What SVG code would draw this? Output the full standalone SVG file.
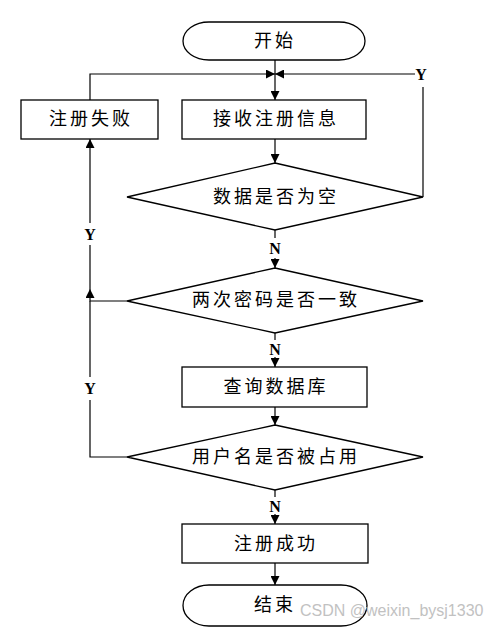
<svg xmlns="http://www.w3.org/2000/svg" width="499" height="631" viewBox="0 0 499 631">
<style>
.shape{fill:#fff;stroke:#000;stroke-width:1.3}
.ln{fill:none;stroke:#000;stroke-width:1.2}
.t{font-family:"Liberation Serif","Noto Sans CJK SC",serif;font-size:18px;letter-spacing:3px;text-anchor:middle;dominant-baseline:central;fill:#000}
.yn{font-family:"Liberation Serif",serif;font-size:16px;font-weight:bold;text-anchor:middle;dominant-baseline:central;fill:#000}
.wm{font-family:"Liberation Sans","DejaVu Sans",sans-serif;font-size:16px;fill:#bbb;opacity:0.9}
</style>
<defs>
<marker id="ah" viewBox="0 0 10 10" refX="10" refY="5" markerWidth="9" markerHeight="9" markerUnits="userSpaceOnUse" orient="auto">
<path d="M0,0 L10,5 L0,10 Z" fill="#000"/>
</marker>
</defs>
<g id="connectors">
<path class="ln" d="M275,60 L275,100" marker-end="url(#ah)"/>
<path class="ln" d="M90,100 L90,74 L275,74" marker-end="url(#ah)"/>
<path class="ln" d="M423,197 L423,87"/>
<path class="ln" d="M415,74 L275,74" marker-end="url(#ah)"/>
<path class="ln" d="M275,139 L275,163" marker-end="url(#ah)"/>
<path class="ln" d="M275,230 L275,238"/>
<path class="ln" d="M275,258 L275,268" marker-end="url(#ah)"/>
<path class="ln" d="M127,301 L90,301 L90,289" marker-end="url(#ah)"/>
<path class="ln" d="M90,223 L90,139" marker-end="url(#ah)"/>
<path class="ln" d="M90,289 L90,245"/>
<path class="ln" d="M275,333 L275,340"/>
<path class="ln" d="M275,357 L275,367" marker-end="url(#ah)"/>
<path class="ln" d="M275,407 L275,425" marker-end="url(#ah)"/>
<path class="ln" d="M127,457 L90,457 L90,400"/>
<path class="ln" d="M90,377 L90,301"/>
<path class="ln" d="M275,490 L275,497"/>
<path class="ln" d="M275,514 L275,524" marker-end="url(#ah)"/>
<path class="ln" d="M275,563 L275,585" marker-end="url(#ah)"/>
<text class="yn" x="421" y="74">Y</text>
<text class="yn" x="90" y="234">Y</text>
<text class="yn" x="90" y="388">Y</text>
<text class="yn" x="275" y="248">N</text>
<text class="yn" x="275" y="349">N</text>
<text class="yn" x="275" y="506">N</text>
</g>
<g id="start">
<rect class="shape" x="183" y="22" width="182" height="38" rx="26" ry="19"/>
<text class="t" x="275" y="41">开始</text>
</g>
<g id="fail">
<rect class="shape" x="21" y="100" width="137" height="39"/>
<text class="t" x="91" y="119">注册失败</text>
</g>
<g id="receive">
<rect class="shape" x="182" y="100" width="184" height="39"/>
<text class="t" x="276" y="119">接收注册信息</text>
</g>
<g id="empty">
<polygon class="shape" points="275,163 423,197 275,230 127,197"/>
<text class="t" x="276" y="197">数据是否为空</text>
</g>
<g id="pwd">
<polygon class="shape" points="275,268 423,301 275,333 127,301"/>
<text class="t" x="276" y="300">两次密码是否一致</text>
</g>
<g id="query">
<rect class="shape" x="182" y="367" width="185" height="40"/>
<text class="t" x="276" y="387">查询数据库</text>
</g>
<g id="occupied">
<polygon class="shape" points="275,425 423,457 275,490 127,457"/>
<text class="t" x="276" y="457">用户名是否被占用</text>
</g>
<g id="success">
<rect class="shape" x="182" y="524" width="186" height="39"/>
<text class="t" x="276" y="544">注册成功</text>
</g>
<g id="end">
<rect class="shape" x="183" y="585" width="184" height="41" rx="26" ry="20.5"/>
<text class="t" x="275" y="605">结束</text>
</g>
<text class="wm" x="300" y="616">CSDN @weixin_bysj1330</text>
</svg>
